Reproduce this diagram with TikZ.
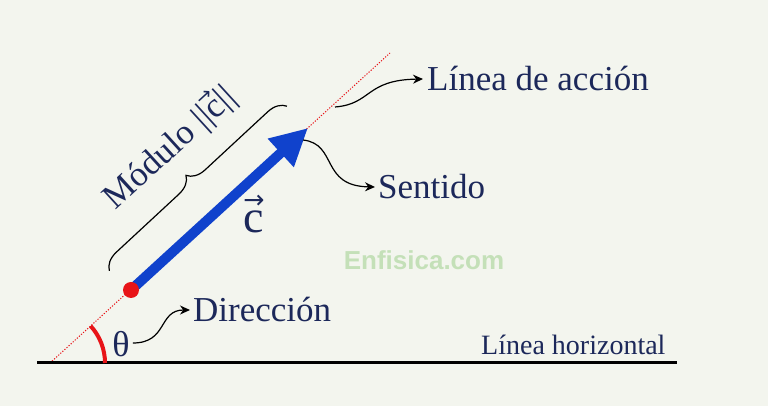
\documentclass[tikz,border=0pt]{standalone}
\usepackage{fontspec}
\setmainfont{Liberation Serif}
\newfontfamily\wmfont{Liberation Sans}
\newfontfamily\arrfont{DejaVu Sans}[Scale=0.55]
\newcommand\vecc{\ooalign{c\cr\hidewidth\raisebox{0.52em}{\arrfont →}\hidewidth\cr}}
\newcommand\dbar{|\kern0.02em|}
\usetikzlibrary{arrows.meta,decorations.pathreplacing,calc}
\definecolor{bgc}{RGB}{243,245,238}
\definecolor{navy}{RGB}{28,40,90}
\definecolor{vblue}{RGB}{16,66,204}
\definecolor{vred}{RGB}{232,20,24}
\definecolor{wmc}{RGB}{196,224,184}
\begin{document}
\begin{tikzpicture}[x=1pt,y=1pt,
  lbl/.style={text=navy,font=\fontsize{35}{40}\selectfont,inner sep=0pt},
  curl/.style={black,line width=1.2pt,-{Stealth[length=10pt,width=9pt]}}]
\fill[bgc] (0,0) rectangle (768,406);
\useasboundingbox (0,0) rectangle (768,406);
% geometry
\coordinate (O) at (50,43);
\coordinate (L) at (390,353);
\coordinate (hl) at (37,43);
\coordinate (hr) at (677,43);
\coordinate (P) at (131,116);
\coordinate (T) at (308,278);
\coordinate (A0) at (105,43);
\coordinate (B1) at (109.4,135.1);
\coordinate (B2) at (287,299.8);
% lines
\draw[vred, line width=1pt, dash pattern=on 1.2pt off 1.6pt] (O) -- (L);
\draw[line width=3pt] (hl) -- (hr);
\draw[vred, line width=4pt] (A0) arc[start angle=0,end angle=42.4,radius=55];
\draw[vblue, line width=10pt, -{Triangle[length=37pt,width=36pt]}] (P) -- (T);
\fill[vred] (P) circle (8);
% brace
\draw[line width=1.2pt, decorate, decoration={brace,amplitude=18pt}] (B1) -- (B2);
% labels
\node[lbl, rotate=42.4] (mod) at (171,257) {Módulo \dbar\vecc\dbar};
\node[lbl, font=\fontsize{46}{50}\selectfont] (cv) at (254,184) {\vecc};
\node[lbl, font=\fontsize{36}{40}\selectfont] (th) at (121,62) {θ};
\node[lbl, anchor=west] (dir) at (193,96) {Dirección};
\node[lbl, anchor=west] (sen) at (378,219) {Sentido};
\node[lbl, anchor=west] (lda) at (427,327) {Línea de acción};
\node[lbl, anchor=west, font=\fontsize{28}{32}\selectfont] (lh) at (481,61) {Línea horizontal};
\node[text=wmc, font=\wmfont\bfseries\fontsize{26}{30}\selectfont, inner sep=0pt] (wm) at (424,146) {Enfisica.com};
% curly arrows
\coordinate (s1) at ($(th.east)+(3,1)$);
\coordinate (s2) at (303,266);
\coordinate (s3) at (335,299);
\draw[curl] (s1) .. controls (168,63) and (158,96) .. ([xshift=-3pt]dir.west);
\draw[curl] (s2) .. controls (338,262) and (320,220) .. ([xshift=-3pt]sen.west);
\draw[curl] (s3) .. controls (372,302) and (365,326) .. ([xshift=-4pt]lda.west);
\end{tikzpicture}
\end{document}
